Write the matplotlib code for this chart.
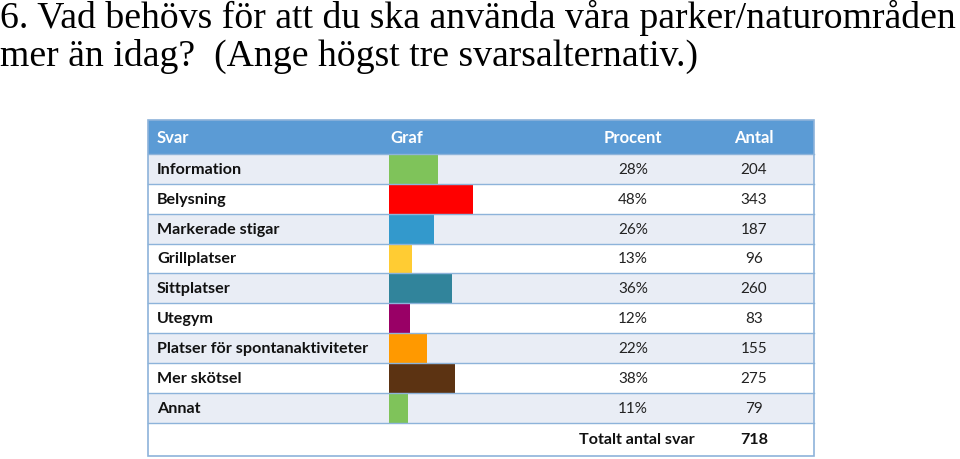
import matplotlib
matplotlib.use("Agg")
import matplotlib.pyplot as plt
from matplotlib.patches import Rectangle

title_lines = ["6. Vad behövs för att du ska använda våra parker/naturområden",
               "mer än idag?  (Ange högst tre svarsalternativ.)"]
headers = ["Svar", "Graf", "Procent", "Antal"]
categories = ["Information", "Belysning", "Markerade stigar", "Grillplatser",
              "Sittplatser", "Utegym", "Platser för spontanaktiviteter",
              "Mer skötsel", "Annat"]
percent = [28, 48, 26, 13, 36, 12, 22, 38, 11]
counts = [204, 343, 187, 96, 260, 83, 155, 275, 79]
bar_colors = ["#7FC35A", "#FF0000", "#3399CC", "#FFCC33", "#31849B",
              "#990066", "#FF9900", "#5C3312", "#7FC35A"]
total_label = "Totalt antal svar"
total_value = 718

W, H = 960, 459
fig = plt.figure(figsize=(W / 100, H / 100), dpi=100)
ax = fig.add_axes([0, 0, 1, 1])
ax.set_xlim(0, W)
ax.set_ylim(H, 0)
ax.axis("off")

# title
serif = "Liberation Serif"
ax.text(0, 28, title_lines[0], fontsize=27.2, family=serif, va="baseline", ha="left")
ax.text(0, 66, title_lines[1], fontsize=27.2, family=serif, va="baseline", ha="left")

# table geometry
left, right = 148, 814
top, head_bot = 120, 154
row_h = 29.85
n = len(categories)
bottom = 456
line_col = "#8DB3DA"
shade = "#E9EDF5"
head_col = "#5B9BD5"
font = "Lato"

ax.add_patch(Rectangle((left, top), right - left, head_bot - top, facecolor=head_col,
                       edgecolor="none", zorder=1))
for i in range(n + 1):
    y0 = head_bot + i * row_h
    y1 = y0 + row_h if i < n else bottom
    fc = shade if i % 2 == 0 and i < n else "white"
    ax.add_patch(Rectangle((left, y0), right - left, y1 - y0, facecolor=fc,
                           edgecolor="none", zorder=1))
    ax.plot([left, right], [y0, y0], color=line_col, lw=1.0, zorder=3)
ax.add_patch(Rectangle((left, top), right - left, bottom - top, facecolor="none",
                       edgecolor=line_col, lw=1.2, zorder=4))

# header text
hy = (top + head_bot) / 2 + 1
hx = [157, 390, 633, 754]
has = ["left", "left", "center", "center"]
for t, x, ha in zip(headers, hx, has):
    ax.text(x, hy, t, color="white", fontsize=12, family=font, weight="bold",
            ha=ha, va="center", zorder=5)

# bars
ycent = [head_bot + (i + 0.5) * row_h for i in range(n)]
scale = 1.74
ax.barh(ycent, [p * scale for p in percent], left=389, height=row_h, color=bar_colors,
        edgecolor="none", zorder=2)

for i, c in enumerate(categories):
    y = ycent[i] + 1
    ax.text(157, y, c, fontsize=11.6, family=font, weight="bold", ha="left",
            va="center", zorder=5, color="#111111")
    ax.text(633, y, f"{percent[i]}%", fontsize=11, family=font, ha="center",
            va="center", zorder=5, color="#222222")
    ax.text(754, y, f"{counts[i]}", fontsize=11, family=font, ha="center",
            va="center", zorder=5, color="#222222")

ty = (head_bot + n * row_h + bottom) / 2 + 1
ax.text(637, ty, total_label, fontsize=11.6, family=font, weight="bold", ha="center",
        va="center", zorder=5, color="#111111")
ax.text(754, ty, f"{total_value}", fontsize=11.6, family=font, weight="bold",
        ha="center", va="center", zorder=5, color="#111111")

fig.savefig("out.png", dpi=100)
